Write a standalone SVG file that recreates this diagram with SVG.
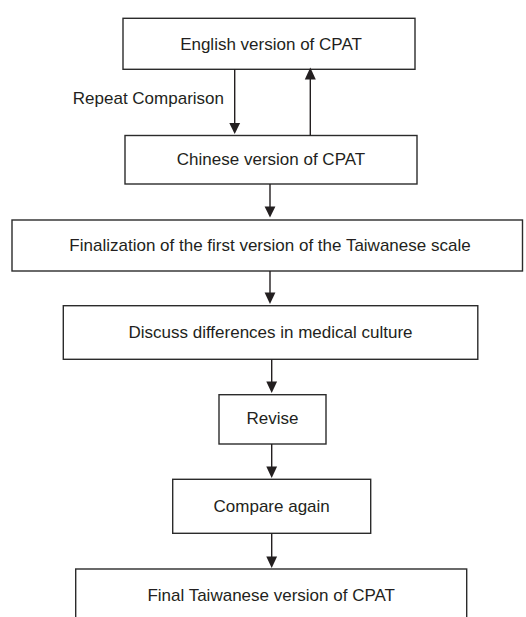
<svg xmlns="http://www.w3.org/2000/svg" width="526" height="617" viewBox="0 0 526 617">
<style>
.box{fill:#fff;stroke:#2b2b2b;stroke-width:1.4}
.t{font-family:"Liberation Sans",Arial,sans-serif;font-size:17px;fill:#231f20;text-anchor:middle}
.c{stroke:#231f20;stroke-width:1.4;fill:none}
.h{fill:#231f20}
</style>
<rect width="526" height="617" fill="#fff"/>
<g id="english"><rect class="box" x="123" y="18.3" width="292" height="51"/><text class="t" x="271" y="49.5">English version of CPAT</text></g>
<g id="chinese"><rect class="box" x="125" y="135.5" width="292" height="48.5"/><text class="t" x="271" y="165">Chinese version of CPAT</text></g>
<g id="finalization"><rect class="box" x="12" y="220" width="510.5" height="51"/><text class="t" x="270" y="251">Finalization of the first version of the Taiwanese scale</text></g>
<g id="discuss"><rect class="box" x="63.3" y="305.7" width="414.5" height="53.6"/><text class="t" x="270.5" y="337.5">Discuss differences in medical culture</text></g>
<g id="revise"><rect class="box" x="219" y="394.7" width="107" height="49.3"/><text class="t" x="272.5" y="424">Revise</text></g>
<g id="compare"><rect class="box" x="172.7" y="479.3" width="198" height="54"/><text class="t" x="271.7" y="511.5">Compare again</text></g>
<g id="final"><rect class="box" x="75.7" y="569" width="391" height="80"/><text class="t" x="271.2" y="601">Final Taiwanese version of CPAT</text></g>
<g id="connectors">
<line class="c" x1="234.7" y1="69.3" x2="234.7" y2="124"/><polygon class="h" points="229.3,123 240.1,123 234.7,134"/>
<line class="c" x1="310.3" y1="135.5" x2="310.3" y2="78"/><polygon class="h" points="304.8,79.5 315.8,79.5 310.3,67.5"/>
<text class="t" x="224" y="103.5" style="text-anchor:end">Repeat Comparison</text>
<line class="c" x1="270" y1="184" x2="270" y2="208"/><polygon class="h" points="264.6,206.5 275.4,206.5 270,217.5"/>
<line class="c" x1="270" y1="271" x2="270" y2="294"/><polygon class="h" points="264.6,292.5 275.4,292.5 270,304"/>
<line class="c" x1="271.7" y1="359.3" x2="271.7" y2="383"/><polygon class="h" points="266.3,381.5 277.1,381.5 271.7,393"/>
<line class="c" x1="271.7" y1="444" x2="271.7" y2="468"/><polygon class="h" points="266.3,466.5 277.1,466.5 271.7,478"/>
<line class="c" x1="271.7" y1="533.3" x2="271.7" y2="558"/><polygon class="h" points="266.3,556.5 277.1,556.5 271.7,568"/>
</g>
</svg>
